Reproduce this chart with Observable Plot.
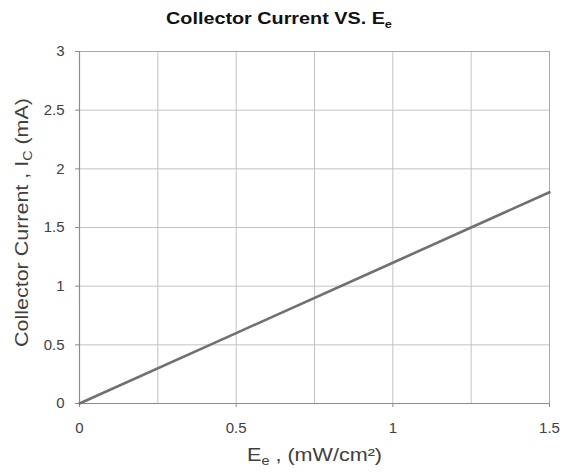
<!DOCTYPE html>
<html>
<head>
<meta charset="utf-8">
<script src="https://cdn.jsdelivr.net/npm/d3@7"></script>
<script src="https://cdn.jsdelivr.net/npm/@observablehq/plot@0.6"></script>
<style>
  html, body { margin: 0; padding: 0; background: #fff; }
  #chart svg { display: block; }
</style>
</head>
<body>
<div id="chart"></div>
<script>
// Data
const irradiance = [0, 0.5, 1, 1.5];          // Ee (mW/cm²)
const collectorCurrent = [0, 0.6, 1.2, 1.8];  // Ic (mA)
const xTicks = [0, 0.5, 1, 1.5];
const yTicks = [0, 0.5, 1, 1.5, 2, 2.5, 3];
const xGrid = [0.25, 0.5, 0.75, 1, 1.25, 1.5];
const yGrid = [0.5, 1, 1.5, 2, 2.5, 3];

const table = irradiance.map((x, i) => ({x, y: collectorCurrent[i]}));

const font = "'Liberation Sans', Arial, sans-serif";

const svg = Plot.plot({
  width: 567,
  height: 472,
  marginLeft: 79,
  marginRight: 18,
  marginTop: 51,
  marginBottom: 69,
  style: {fontFamily: font, fontSize: "14px", color: "#404040", background: "#fff"},
  x: {domain: [0, 1.5]},
  y: {domain: [0, 3]},
  marks: [
    Plot.ruleX(xGrid, {stroke: "#c4c4c4", strokeWidth: 1}),
    Plot.ruleY(yGrid, {stroke: "#c4c4c4", strokeWidth: 1}),
    Plot.frame({stroke: "#a8a8a8", strokeWidth: 1}),
    Plot.ruleX([0], {stroke: "#8c8c8c", strokeWidth: 1.2}),
    Plot.ruleY([0], {stroke: "#8c8c8c", strokeWidth: 1.2}),
    Plot.axisX({ticks: xTicks, tickSize: 4, tickPadding: 15, fontSize: 15, label: null,
      stroke: "#8c8c8c", fill: "#404040", tickFormat: d => String(d)}),
    Plot.axisY({ticks: yTicks, tickSize: 4, tickPadding: 11, fontSize: 15, label: null,
      stroke: "#8c8c8c", fill: "#404040", tickFormat: d => String(d)}),
    Plot.line(table, {x: "x", y: "y", stroke: "#707070", strokeWidth: 2.6})
  ]
});

const s = d3.select(svg);

// Title
const title = s.append("text")
  .attr("x", 166).attr("y", 24)
  .attr("text-anchor", "start")
  .attr("font-family", font).attr("font-weight", "bold").attr("font-size", 17)
  .attr("fill", "#111")
  .attr("textLength", 226).attr("lengthAdjust", "spacingAndGlyphs");
title.append("tspan").text("Collector Current VS. E");
title.append("tspan").attr("dy", 4).attr("font-size", 11).text("e");

// X axis label
const xl = s.append("text")
  .attr("x", 247).attr("y", 461)
  .attr("text-anchor", "start")
  .attr("font-family", font).attr("font-size", 18).attr("fill", "#404040")
  .attr("textLength", 135).attr("lengthAdjust", "spacingAndGlyphs");
xl.append("tspan").text("E");
xl.append("tspan").attr("dy", 4).attr("font-size", 12).text("e");
xl.append("tspan").attr("dy", -4).text(" , (mW/cm²)");

// Y axis label
const yl = s.append("text")
  .attr("transform", "translate(28,347) rotate(-90)")
  .attr("x", 0).attr("y", 0)
  .attr("text-anchor", "start")
  .attr("font-family", font).attr("font-size", 18).attr("fill", "#404040")
  .attr("textLength", 249).attr("lengthAdjust", "spacingAndGlyphs");
yl.append("tspan").text("Collector Current , I");
yl.append("tspan").attr("dy", 4).attr("font-size", 12).text("C");
yl.append("tspan").attr("dy", -4).text(" (mA)");

document.getElementById("chart").appendChild(svg);
</script>
</body>
</html>
